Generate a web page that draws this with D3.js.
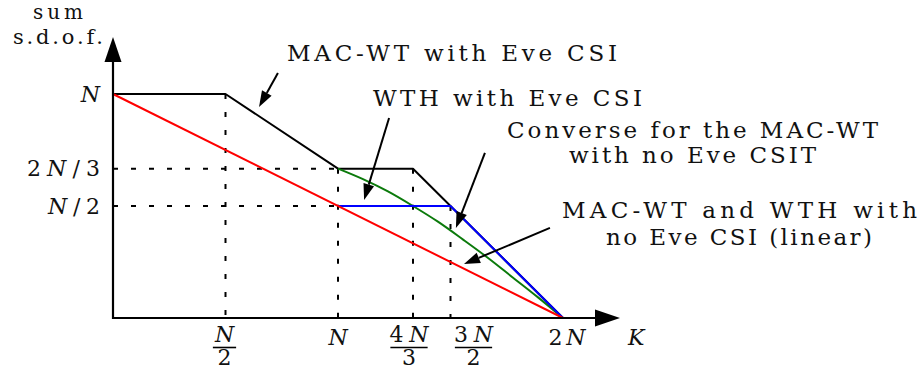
<!DOCTYPE html>
<html>
<head>
<meta charset="utf-8">
<script src="https://cdn.jsdelivr.net/npm/d3@7"></script>
<style>
  body { margin: 0; background: #fff; }
  svg { display: block; }
  text { font-family: "DejaVu Serif", serif; fill: #111; font-size: 23px; }
  text.math { font-size: 22px; }
</style>
</head>
<body>
<div id="chart"></div>
<script>
var width = 924;
var height = 370;

// all values in units of N  (x = K / N, y = sum s.d.o.f. / N)
var macWtK = [0, 0.5, 1, 4/3, 1.5, 2];
var macWtD = [1, 1, 2/3, 2/3, 0.5, 0];

var wthK = [1, 1.5, 2];
var wthD = [0.5, 0.5, 0];

// converse curve
var converseK = [1, 1.111, 1.222, 1.333, 1.444, 1.556, 1.667, 1.778, 1.889, 2];
var converseD = [0.667, 0.62, 0.565, 0.5, 0.43, 0.35, 0.268, 0.18, 0.092, 0];

var linearK = [0, 2];
var linearD = [1, 0];

var xTickVals = [0.5, 1, 4/3, 1.5, 2];
var xTickLabels = ["N/2", "N", "4N/3", "3N/2", "2N"];
var yTickVals = [1, 2/3, 0.5];
var yTickLabels = ["N", "2N/3", "N/2"];

// dotted guides: [x, top] and [y, right]
var guideV = [[0.5, 1], [1, 2/3], [4/3, 2/3], [1.5, 0.5]];
var guideH = [[2/3, 1], [0.5, 1]];

var noteText = [
  ["MAC-WT with Eve CSI"],
  ["WTH with Eve CSI"],
  ["Converse for the MAC-WT", "with no Eve CSIT"],
  ["MAC-WT and WTH with", "no Eve CSI (linear)"]
];

// layout only below here
var noteLayout = [
  { lines: [[287, 61, 330]], from: [0.733, 1.094], to: [0.649, 0.942] },
  { lines: [[373, 106, 269]], from: [1.227, 0.893], to: [1.116, 0.527] },
  { lines: [[507, 138, 371], [569, 163, 247]], from: [1.653, 0.737], to: [1.524, 0.402] },
  { lines: [[562, 218, 355], [606, 245, 266]], from: [1.942, 0.402], to: [1.56, 0.241] }
];
var xLabelShift = [-1, 0, -4, 23, 4];
var xLabelWidth = [null, null, 39, 39, 37];
var yLabelWidth = [20, 73, 52];

var svg = d3.select("#chart")
            .append("svg")
            .attr("width", width)
            .attr("height", height);

var x = d3.scaleLinear().domain([0, 2]).range([113, 563]);
var y = d3.scaleLinear().domain([0, 1]).range([318, 94]);

// writes a string with N and K in italics
function mathText(sel, str) {
  sel.attr("class", "math");
  str.split(/([NK])/).forEach(function(part) {
    if (part === "") return;
    sel.append("tspan")
       .style("font-style", /^[NK]$/.test(part) ? "italic" : "normal")
       .text(part);
  });
  return sel;
}

// dotted guides
svg.selectAll(".guideV")
   .data(guideV)
   .enter().append("line")
   .attr("x1", function(d) { return x(d[0]); })
   .attr("x2", function(d) { return x(d[0]); })
   .attr("y1", function(d) { return y(d[1]); })
   .attr("y2", y(0))
   .attr("stroke", "#000")
   .attr("stroke-width", 2)
   .attr("stroke-dasharray", "5,13");

svg.selectAll(".guideH")
   .data(guideH)
   .enter().append("line")
   .attr("y1", function(d) { return y(d[0]); })
   .attr("y2", function(d) { return y(d[0]); })
   .attr("x1", x(0))
   .attr("x2", function(d) { return x(d[1]); })
   .attr("stroke", "#000")
   .attr("stroke-width", 2)
   .attr("stroke-dasharray", "5,13");

// series
var line = d3.line()
             .x(function(d) { return x(d[0]); })
             .y(function(d) { return y(d[1]); });

function drawSeries(ks, ds, color, curve) {
  svg.append("path")
     .datum(d3.zip(ks, ds))
     .attr("d", line.curve(curve || d3.curveLinear))
     .attr("fill", "none")
     .attr("stroke", color)
     .attr("stroke-width", 2)
     .attr("stroke-linejoin", "round");
}

drawSeries(macWtK, macWtD, "#000");
drawSeries(converseK, converseD, "#0b7a0b", d3.curveMonotoneX);
drawSeries(wthK, wthD, "#0000ff");
drawSeries(linearK, linearD, "#ff0000");

// axes with arrow heads
svg.append("line")
   .attr("x1", x(0) - 1).attr("x2", 596)
   .attr("y1", y(0)).attr("y2", y(0))
   .attr("stroke", "#000").attr("stroke-width", 2.2);
svg.append("path")
   .attr("d", "M595," + (y(0) - 8.5) + "L620," + y(0) + "L595," + (y(0) + 8.5) + "Z")
   .attr("fill", "#000");

svg.append("line")
   .attr("x1", x(0)).attr("x2", x(0))
   .attr("y1", y(0) + 1).attr("y2", 61)
   .attr("stroke", "#000").attr("stroke-width", 2.2);
svg.append("path")
   .attr("d", "M" + (x(0) - 8.5) + ",62L" + x(0) + ",37L" + (x(0) + 8.5) + ",62Z")
   .attr("fill", "#000");

// axis titles
svg.append("text").attr("x", 58).attr("y", 19).attr("text-anchor", "middle")
   .attr("textLength", 50).style("font-size", "20px").text("sum");
svg.append("text").attr("x", 13).attr("y", 44).attr("textLength", 90)
   .style("font-size", "21px").text("s.d.o.f.");
mathText(svg.append("text").attr("x", 628).attr("y", 345), "K");

// y tick labels
yTickVals.forEach(function(v, i) {
  mathText(svg.append("text")
              .attr("x", 100)
              .attr("y", y(v) + 7.5)
              .attr("text-anchor", "end")
              .attr("textLength", yLabelWidth[i]), yTickLabels[i]);
});

// x tick labels (fractions stacked)
xTickVals.forEach(function(v, i) {
  var cx = x(v) + xLabelShift[i];
  var parts = xTickLabels[i].split("/");
  var t = mathText(svg.append("text")
                      .attr("x", cx)
                      .attr("y", parts.length > 1 ? 342 : 345)
                      .attr("text-anchor", "middle"), parts[0]);
  if (xLabelWidth[i]) t.attr("textLength", xLabelWidth[i]);
  if (parts.length > 1) {
    var w = t.node().getComputedTextLength();
    svg.append("line")
       .attr("x1", cx - w / 2 - 2).attr("x2", cx + w / 2 + 2)
       .attr("y1", 347.5).attr("y2", 347.5)
       .attr("stroke", "#000").attr("stroke-width", 1.6);
    mathText(svg.append("text")
                .attr("x", cx)
                .attr("y", 365)
                .attr("text-anchor", "middle"), parts[1]);
  }
});

// notes with arrows
noteText.forEach(function(lines, i) {
  var lay = noteLayout[i];
  lines.forEach(function(s, j) {
    svg.append("text")
       .attr("x", lay.lines[j][0])
       .attr("y", lay.lines[j][1])
       .attr("textLength", lay.lines[j][2])
       .text(s);
  });
  var x1 = x(lay.from[0]), y1 = y(lay.from[1]);
  var x2 = x(lay.to[0]), y2 = y(lay.to[1]);
  var a = Math.atan2(y2 - y1, x2 - x1);
  var len = 16, half = 5.5;
  var bx = x2 - len * Math.cos(a), by = y2 - len * Math.sin(a);
  svg.append("line")
     .attr("x1", x1).attr("y1", y1)
     .attr("x2", bx).attr("y2", by)
     .attr("stroke", "#000").attr("stroke-width", 2);
  svg.append("path")
     .attr("d", "M" + x2 + "," + y2 +
                "L" + (bx + half * Math.sin(a)) + "," + (by - half * Math.cos(a)) +
                "L" + (bx - half * Math.sin(a)) + "," + (by + half * Math.cos(a)) + "Z")
     .attr("fill", "#000");
});
</script>
</body>
</html>
